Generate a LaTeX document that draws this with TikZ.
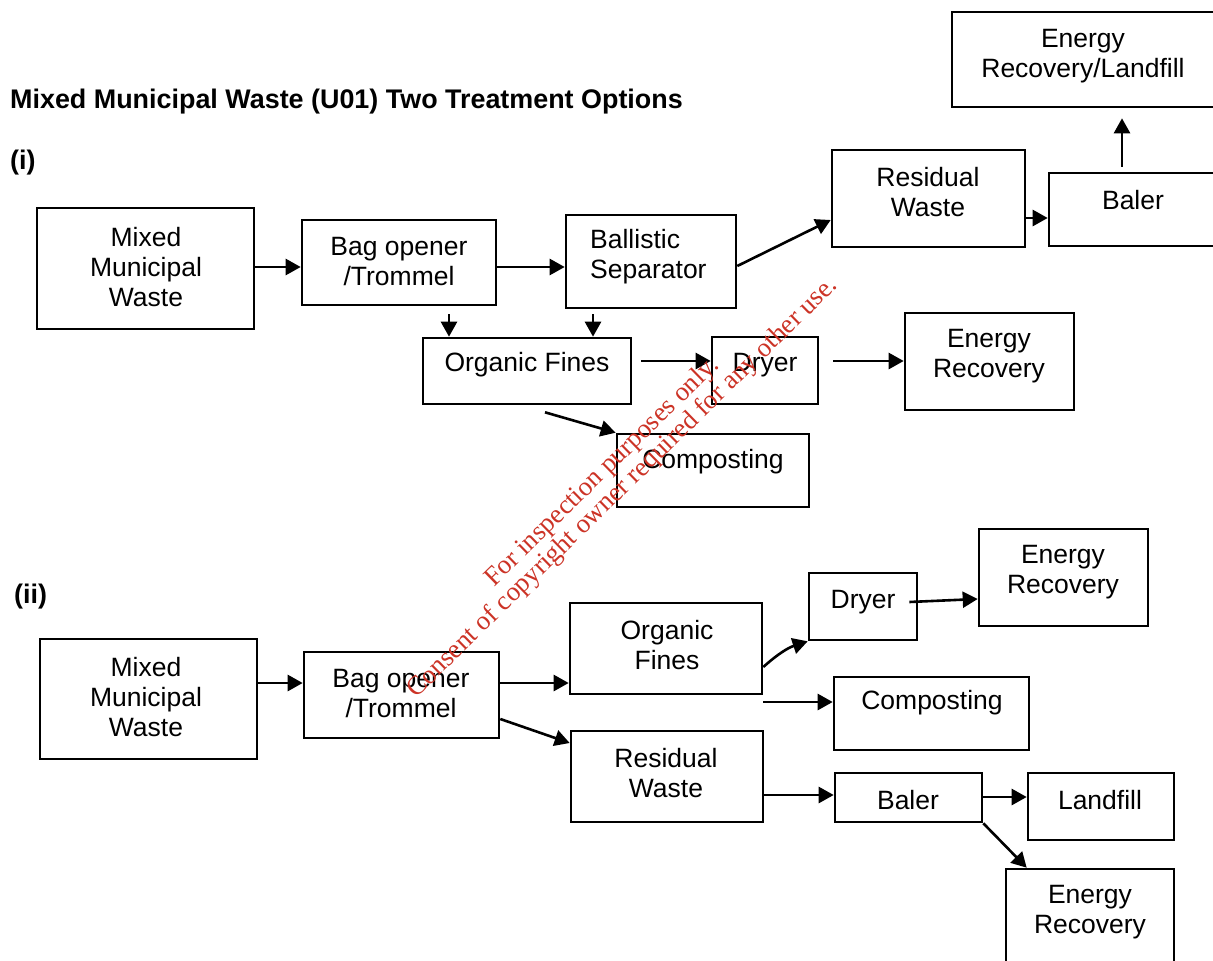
\documentclass[tikz,border=0pt]{standalone}
\usepackage{fontspec}
\setmainfont{Liberation Sans}
\newfontfamily\wmfont{Liberation Serif}
\usetikzlibrary{arrows.meta,calc}
\definecolor{wmred}{RGB}{204,51,38}
\newcommand\bxx[5]{\node[box, minimum width={#4-#2}, minimum height={#5-#3}] (#1) at ({(#2+#4)/2},{(#3+#5)/2}) {};}
\begin{document}
\begin{tikzpicture}[x=1pt,y=-1pt,
  box/.style={draw=black, line width=2.6pt, inner sep=0pt, rectangle},
  txt/.style={align=center, inner sep=0pt, font=\fontsize{26.5}{30}\selectfont},
  hdr/.style={anchor=west, inner sep=0pt, font=\bfseries\fontsize{26.9}{30}\selectfont},
  arr/.style={line width=2.6pt, -{Triangle[length=15pt,width=16pt]}},
  wm/.style={text=wmred, font=\wmfont\fontsize{26.8}{28}\selectfont, rotate=44.3, anchor=base, inner sep=0pt}]
\useasboundingbox (0,0) rectangle (1213,961);
\fill[white] (0,0) rectangle (1213,961);
\clip (0,0) rectangle (1213,961);

% headings
\node[hdr] (title) at (10,102) {Mixed Municipal Waste (U01) Two Treatment Options};
\node[hdr] (lab1) at (10,163) {(i)};
\node[hdr] (lab2) at (14,597) {(ii)};

% ---- option (i) boxes
\bxx{mmw1}{37}{208}{254}{329}
\node[txt] (mmw1t) at (146,267) {Mixed\\Municipal\\Waste};
\bxx{bag1}{302}{220}{496}{305}
\node[txt] (bag1t) at (399,262) {Bag opener\\/Trommel};
\bxx{bal1}{566}{215}{736}{308}
\node[txt, anchor=west, align=left] (bal1t) at (590,257) {Ballistic\\Separator};
\bxx{res1}{832}{150}{1025}{247}
\node[txt] (res1t) at (928,192) {Residual\\Waste};
\bxx{baler1}{1049}{173}{1216}{246}
\node[txt] (baler1t) at (1133,200) {Baler};
\bxx{erl1}{952}{12}{1216}{107}
\node[txt] (erl1t) at (1083,56) {Energy\\Recovery/Landfill};
\bxx{of1}{423}{338}{631}{404}
\node[txt] (of1t) at (527,365) {Organic Fines};
\bxx{dry1}{712}{337}{818}{404}
\node[txt] (dry1t) at (765,365) {Dryer};
\bxx{er1}{905}{313}{1074}{410}
\node[txt] (er1t) at (989,356) {Energy\\Recovery};
\bxx{comp1}{617}{434}{809}{507}
\node[txt] (comp1t) at (713,462) {Composting};

% ---- option (i) arrows
\draw[arr] (mmw1.east |- 0,267) -- (bag1.west |- 0,267);
\draw[arr] (bag1.east |- 0,267) -- (bal1.west |- 0,267);
\draw[arr] (bal1.east |- 0,266) -- (res1.west |- 0,220);
\draw[arr] (res1.east |- 0,218) -- (baler1.west |- 0,218);
\draw[arr] ($(baler1.north -| 1122,0)+(0,-5)$) -- ($(erl1.south -| 1122,0)+(0,10)$);
\draw[arr] ($(bag1.south -| 449,0)+(0,8)$) -- (of1.north -| 449,0);
\draw[arr] ($(bal1.south -| 593,0)+(0,5)$) -- (of1.north -| 593,0);
\draw[arr] ($(of1.east |- 0,361)+(9,0)$) -- (dry1.west |- 0,361);
\draw[arr] ($(dry1.east |- 0,361)+(14,0)$) -- (er1.west |- 0,361);
\draw[arr] ($(of1.south)+(18,7)$) -- (comp1.north west);

% ---- option (ii) boxes
\bxx{mmw2}{40}{639}{257}{759}
\node[txt] (mmw2t) at (146,697) {Mixed\\Municipal\\Waste};
\bxx{bag2}{304}{652}{499}{738}
\node[txt] (bag2t) at (401,694) {Bag opener\\/Trommel};
\bxx{of2}{570}{603}{762}{694}
\node[txt] (of2t) at (667,645) {Organic\\Fines};
\bxx{res2}{571}{731}{763}{822}
\node[txt] (res2t) at (666,773) {Residual\\Waste};
\bxx{dry2}{809}{573}{917}{640}
\node[txt] (dry2t) at (863,602) {Dryer};
\bxx{er2}{979}{529}{1148}{626}
\node[txt] (er2t) at (1063,572) {Energy\\Recovery};
\bxx{comp2}{834}{677}{1029}{750}
\node[txt] (comp2t) at (932,703) {Composting};
\bxx{baler2}{835}{773}{982}{822}
\node[txt] (baler2t) at (908,800) {Baler};
\bxx{land2}{1028}{773}{1174}{840}
\node[txt] (land2t) at (1100,800) {Landfill};
\bxx{er3}{1006}{869}{1174}{990}
\node[txt] (er3t) at (1090,912) {Energy\\Recovery};

% ---- option (ii) arrows
\draw[arr] (mmw2.east |- 0,683) -- (bag2.west |- 0,683);
\draw[arr] (bag2.east |- 0,683) -- (of2.west |- 0,683);
\draw[arr] (bag2.east |- 0,719) -- (res2.west |- 0,743);
\draw[arr] (of2.east |- 0,667) to[bend left=12] (dry2.south west);
\draw[arr] ($(dry2.east |- 0,602)+(-9,0)$) -- (er2.west |- 0,599);
\draw[arr] (of2.east |- 0,702) -- (comp2.west |- 0,702);
\draw[arr] (res2.east |- 0,795) -- (baler2.west |- 0,795);
\draw[arr] (baler2.east |- 0,797) -- (land2.west |- 0,797);
\draw[arr] (baler2.south east) -- ($(er3.north west)+(22,0)$);

% ---- watermark
\node[wm] (wm1) at (607,477) {For inspection purposes only.};
\node[wm] (wm2) at (627.5,492.5) {Consent of copyright owner required for any other use.};
\end{tikzpicture}
\end{document}
